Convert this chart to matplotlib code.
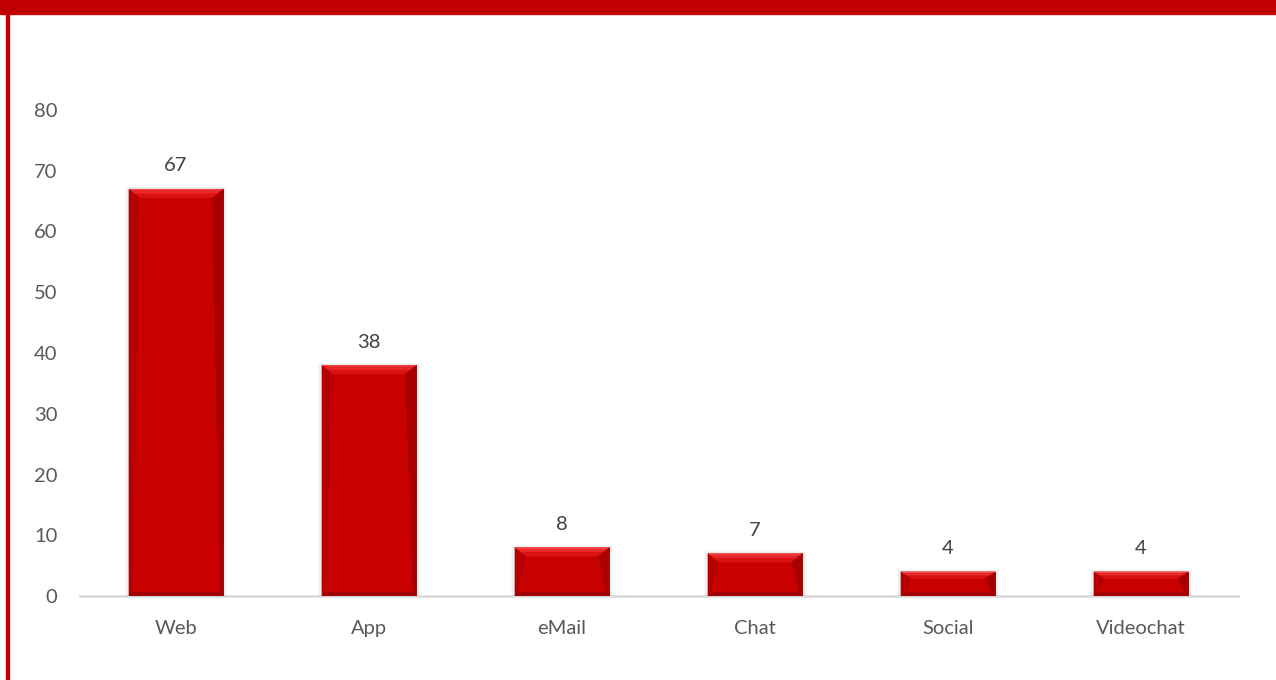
import matplotlib
matplotlib.use('Agg')
import matplotlib.pyplot as plt
from matplotlib.patches import Polygon, Rectangle

channels = ['Web', 'App', 'eMail', 'Chat', 'Social', 'Videochat']
counts = [67, 38, 8, 7, 4, 4]
y_ticks = [0, 10, 20, 30, 40, 50, 60, 70, 80]

RED = '#C80000'
FRAME = '#C00000'
GREY_TEXT = '#595959'

plt.rcParams['font.family'] = ['Lato', 'DejaVu Sans']

W, H = 1276, 680
fig = plt.figure(figsize=(W / 100, H / 100), dpi=100)

# red band on top and thin red line down the left side
fig.patches.append(Rectangle((0, 1 - 14 / H), 1, 14 / H, transform=fig.transFigure,
                             color=FRAME, zorder=0))
fig.patches.append(Rectangle((6 / W, 0), 3 / W, 1, transform=fig.transFigure,
                             color=FRAME, zorder=0))

left, right, bottom, top = 79.5, 1237.5, 596, 110
ax = fig.add_axes([left / W, (H - bottom) / H, (right - left) / W, (bottom - top) / H])

x = list(range(len(channels)))
width = 0.49
ax.set_xlim(-0.5, len(channels) - 0.5)
ax.set_ylim(0, 80)

# pixel -> data unit conversion for the bevel
px_x = (len(channels)) / (right - left)
px_y = 80 / (bottom - top)

for xi, v in zip(x, counts):
    x0, x1 = xi - width / 2, xi + width / 2
    # soft shadow behind the bar
    for k, a in [(4, 0.05), (2.5, 0.07), (1.2, 0.1)]:
        ax.add_patch(Rectangle((x0 - k * px_x, 0), width + 2 * k * px_x, v + k * px_y * 0.6,
                               color='#808080', alpha=a, lw=0, zorder=1))
    ax.bar(xi, v, width=width, color=RED, edgecolor='#900000', linewidth=0.6, zorder=2)

    bt = min(9 * px_y, v * 0.3)
    bb = min(4 * px_y, v * 0.15)
    bs = 3.5 * px_x
    bts = 11 * px_x
    # top facet, brighter towards the upper edge
    ax.add_patch(Polygon([(x0, v), (x1, v), (x1 - bts, v - bt), (x0 + bts, v - bt)],
                         closed=True, color='#DC1212', lw=0, zorder=3))
    ax.add_patch(Polygon([(x0, v), (x1, v), (x1 - bts * 0.5, v - bt * 0.5),
                          (x0 + bts * 0.5, v - bt * 0.5)],
                         closed=True, color='#E62828', lw=0, zorder=3))
    ax.add_patch(Rectangle((x0, v - 1.2 * px_y), width, 1.2 * px_y,
                           color='#F04848', lw=0, zorder=3))
    # left and right facets
    ax.add_patch(Polygon([(x0, v), (x0 + bts, v - bt), (x0 + bs, bb), (x0, 0)],
                         closed=True, color='#B40000', lw=0, zorder=3))
    ax.add_patch(Polygon([(x1, v), (x1 - bts, v - bt), (x1 - bs, bb), (x1, 0)],
                         closed=True, color='#A80000', lw=0, zorder=3))
    # bottom facet
    ax.add_patch(Polygon([(x0, 0), (x1, 0), (x1 - bs, bb), (x0 + bs, bb)],
                         closed=True, color='#A00000', lw=0, zorder=3))

    ax.annotate(str(v), (xi, v), xytext=(0, 10.5), textcoords='offset points',
                ha='center', va='bottom', fontsize=14.5, color='#404040')

ax.set_xticks(x)
ax.set_xticklabels(channels)
ax.set_yticks(y_ticks)
ax.tick_params(axis='both', length=0, labelsize=14.5, colors=GREY_TEXT)
ax.tick_params(axis='x', pad=17.5)
ax.tick_params(axis='y', pad=16)

for s in ['top', 'right', 'left']:
    ax.spines[s].set_visible(False)
ax.spines['bottom'].set_color('#D9D9D9')
ax.spines['bottom'].set_linewidth(1.8)
ax.spines['bottom'].set_zorder(0.5)

fig.savefig('out.png', dpi=100)
